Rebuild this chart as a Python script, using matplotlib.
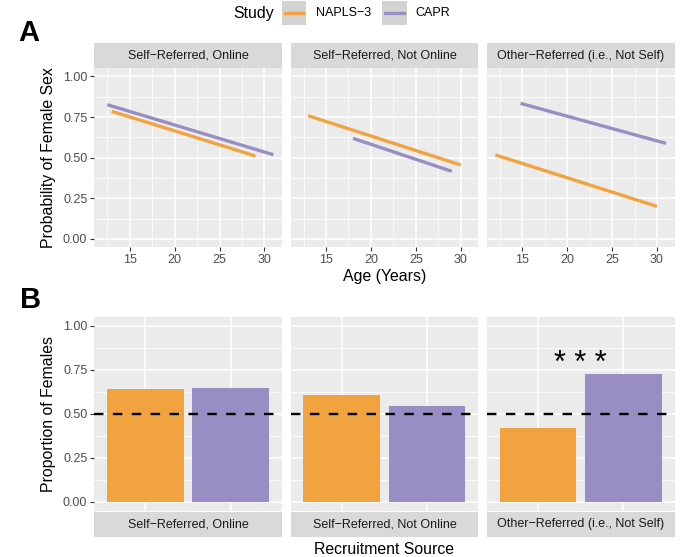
import matplotlib
matplotlib.use("Agg")
import matplotlib.pyplot as plt
from matplotlib.lines import Line2D

plt.rcParams['font.family'] = ['Liberation Sans', 'DejaVu Sans']

# recruitment source facets and studies
sources = ["Self\u2212Referred, Online", "Self\u2212Referred, Not Online",
           "Other\u2212Referred (i.e., Not Self)"]
studies = ["NAPLS\u22123", "CAPR"]
study_colors = ["#F1A340", "#998EC3"]

# panel A: fitted probability of female sex vs age (start / end of each line)
napls_age = [[13, 29], [13, 30], [12, 30]]
napls_prob = [[0.785, 0.51], [0.758, 0.455], [0.517, 0.20]]
capr_age = [[12.5, 31], [18, 29], [14.8, 31]]
capr_prob = [[0.826, 0.518], [0.619, 0.416], [0.834, 0.588]]

# panel B: proportion of females
napls_prop = [0.638, 0.604, 0.421]
capr_prop = [0.643, 0.543, 0.723]
sig_labels = ["", "", "* * *"]

W, H = 685, 557
fig = plt.figure(figsize=(W / 100, H / 100), dpi=100)


def px_axes(x0, y0, x1, y1, **kw):
    return fig.add_axes([x0 / W, 1 - y1 / H, (x1 - x0) / W, (y1 - y0) / H], **kw)


def style_panel(ax):
    ax.set_facecolor("#EBEBEB")
    for s in ax.spines.values():
        s.set_visible(False)
    ax.grid(which="major", color="white", lw=1.1)
    ax.grid(which="minor", color="white", lw=0.55)
    ax.set_axisbelow(True)
    ax.tick_params(which="major", length=3, width=0.8, color="#333333",
                   labelsize=9, labelcolor="#4D4D4D", pad=2)
    ax.tick_params(which="minor", length=0)
    ax.set_ylim(-0.05, 1.05)
    ax.set_yticks([0, 0.25, 0.5, 0.75, 1.0])
    ax.set_yticks([0.125, 0.375, 0.625, 0.875], minor=True)


def strip(x0, y0, x1, y1, label):
    s = px_axes(x0, y0, x1, y1)
    s.set_facecolor("#D9D9D9")
    s.set_xticks([])
    s.set_yticks([])
    for sp in s.spines.values():
        sp.set_visible(False)
    s.text(0.5, 0.5, label, ha="center", va="center", fontsize=9,
           color="#1A1A1A", transform=s.transAxes)


cols = [(94.3, 281.9), (290.6, 478.2), (486.9, 674.5)]

# ---- panel A ----
for i, (x0, x1) in enumerate(cols):
    strip(x0, 43.3, x1, 68.3, sources[i])
    ax = px_axes(x0, 68.3, x1, 247)
    style_panel(ax)
    ax.set_xlim(11.05, 31.95)
    ax.set_xticks([15, 20, 25, 30])
    ax.set_xticks([12.5, 17.5, 22.5, 27.5], minor=True)
    ax.plot(napls_age[i], napls_prob[i], color=study_colors[0], lw=2.4,
            solid_capstyle="butt")
    ax.plot(capr_age[i], capr_prob[i], color=study_colors[1], lw=2.4,
            solid_capstyle="butt")
    if i == 0:
        ax.set_yticklabels(["0.00", "0.25", "0.50", "0.75", "1.00"])
    else:
        ax.tick_params(axis="y", which="major", length=0, labelleft=False)

fig.text(48 / W, 1 - 157.7 / H, "Probability of Female Sex", rotation=90,
         ha="center", va="center", fontsize=11.4)
fig.text(384.4 / W, 1 - 277 / H, "Age (Years)", ha="center", va="center",
         fontsize=11.4)

# ---- panel B ----
for i, (x0, x1) in enumerate(cols):
    ax = px_axes(x0, 316.7, x1, 510.7)
    style_panel(ax)
    ax.set_xlim(0.4, 2.6)
    ax.set_xticks([1, 2])
    ax.tick_params(axis="x", length=0, labelbottom=False)
    ax.bar([1, 2], [napls_prop[i], capr_prop[i]], width=0.9,
           color=study_colors, zorder=2)
    ax.axhline(0.5, color="black", lw=1.7, ls=(0, (4, 4)), zorder=3)
    if sig_labels[i]:
        ax.text(1.5, 0.735, sig_labels[i], ha="center", va="baseline",
                fontsize=22, color="black")
    if i == 0:
        ax.set_yticklabels(["0.00", "0.25", "0.50", "0.75", "1.00"])
    else:
        ax.tick_params(axis="y", which="major", length=0, labelleft=False)
    strip(x0, 511.5, x1, 537, sources[i])

fig.text(48 / W, 1 - 414 / H, "Proportion of Females", rotation=90,
         ha="center", va="center", fontsize=11.4)
fig.text(384.4 / W, 1 - 550 / H, "Recruitment Source", ha="center",
         va="center", fontsize=11.4)

# ---- legend ----
fig.text(233 / W, 1 - 13.3 / H, "Study", ha="left", va="center", fontsize=11.4)
key_pos = [(282, 306, 316), (381.7, 406.7, 415)]
for (k0, k1, tx), lab, c in zip(key_pos, studies, study_colors):
    k = px_axes(k0, 1, k1, 25)
    k.set_facecolor("#D3D3D3")
    k.set_xlim(0, 1)
    k.set_ylim(0, 1)
    k.set_xticks([])
    k.set_yticks([])
    for sp in k.spines.values():
        sp.set_visible(False)
    k.add_line(Line2D([0.12, 0.88], [0.5, 0.5], color=c, lw=2.4))
    fig.text(tx / W, 1 - 13.3 / H, lab, ha="left", va="center", fontsize=9)

# panel letters
fig.text(18 / W, 1 - 40.7 / H, "A", ha="left", va="baseline", fontsize=21,
         fontweight="bold")
fig.text(20 / W, 1 - 308.3 / H, "B", ha="left", va="baseline", fontsize=21,
         fontweight="bold")

fig.savefig("out.png", dpi=100)
